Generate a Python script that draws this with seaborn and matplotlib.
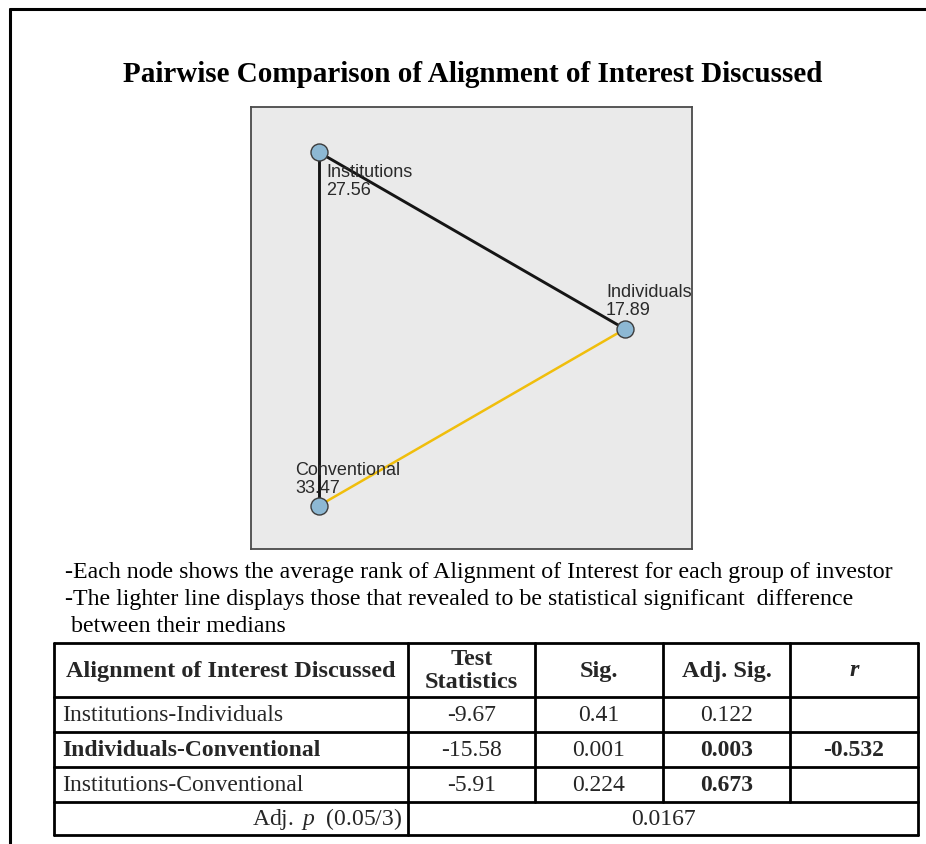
import numpy as np
import pandas as pd
import seaborn as sns
import matplotlib
matplotlib.use("Agg")
import matplotlib.pyplot as plt
from matplotlib.lines import Line2D

# ---- data -------------------------------------------------------------
groups = ["Institutions", "Individuals", "Conventional"]
mean_ranks = [27.56, 17.89, 33.47]

comparisons = ["Institutions-Individuals", "Individuals-Conventional", "Institutions-Conventional"]
pair_a = ["Institutions", "Individuals", "Institutions"]
pair_b = ["Individuals", "Conventional", "Conventional"]
test_stats = ["-9.67", "-15.58", "-5.91"]
sig_vals = ["0.41", "0.001", "0.224"]
adj_sig_vals = ["0.122", "0.003", "0.673"]
r_vals = ["", "-0.532", ""]
adj_p = 0.05 / 3
adj_p_label = "0.0167"

headers = ["Alignment of Interest Discussed", "Test\nStatistics", "Sig.", "Adj. Sig.", "r"]

notes = [
    "-Each node shows the average rank of Alignment of Interest for each group of investor",
    "-The lighter line displays those that revealed to be statistical significant  difference",
    " between their medians",
]

# ---- figure -----------------------------------------------------------
sns.set_theme(style="white")
plt.rcParams["font.family"] = ["Liberation Serif", "DejaVu Serif"]
plt.rcParams["mathtext.fontset"] = "custom"
plt.rcParams["mathtext.it"] = "Liberation Serif:italic"
plt.rcParams["mathtext.rm"] = "Liberation Serif"

W, H = 926, 844
fig = plt.figure(figsize=(W / 100, H / 100), dpi=100)
fig.patch.set_facecolor("white")


def fx(x):
    return x / W


def fy(y):
    return 1 - y / H


# page frame (left and top rules)
fig.add_artist(Line2D([fx(10), fx(10)], [fy(9), fy(H + 5)], color="black", lw=2.2,
                      transform=fig.transFigure))
fig.add_artist(Line2D([fx(10), fx(W + 5)], [fy(9), fy(9)], color="black", lw=2.2,
                      transform=fig.transFigure))

fig.text(fx(473), fy(74), "Pairwise Comparison of Alignment of Interest Discussed",
         ha="center", va="center", fontsize=21, fontweight="bold", color="black")

# ---- network panel ------------------------------------------------------
ax = fig.add_axes([fx(251), fy(549), fx(692) - fx(251), fy(107) - fy(549)])
ax.set_facecolor("#EAEAEA")
for sp in ax.spines.values():
    sp.set_color("#4a4a4a")
    sp.set_linewidth(1.3)
    sp.set_visible(True)

# nodes sit on the vertices of an equilateral triangle
radius = 204
angles = np.deg2rad([120, 0, 240])
nodes = pd.DataFrame({
    "group": groups,
    "rank": mean_ranks,
    "x": radius * np.cos(angles),
    "y": radius * np.sin(angles),
}).set_index("group")

for a, b, p in zip(pair_a, pair_b, adj_sig_vals):
    significant = float(p) < adj_p
    ax.plot([nodes.loc[a, "x"], nodes.loc[b, "x"]],
            [nodes.loc[a, "y"], nodes.loc[b, "y"]],
            color="#F0BE0C" if significant else "#151515",
            lw=1.8 if significant else 2.1, zorder=2, solid_capstyle="round")

sns.scatterplot(data=nodes.reset_index(), x="x", y="y", s=150, color="#8DB8D3",
                edgecolor="#3c3c3c", linewidth=1.0, ax=ax, zorder=3, legend=False)

label_offsets = {
    "Institutions": ((7, -12), "top"),
    "Individuals": ((-19, 10), "bottom"),
    "Conventional": ((-24, 9), "bottom"),
}
for g in groups:
    (dx, dy), va = label_offsets[g]
    ax.annotate(f"{g}\n{nodes.loc[g, 'rank']:.2f}",
                (nodes.loc[g, "x"], nodes.loc[g, "y"]),
                xytext=(dx * 0.72, dy * 0.72), textcoords="offset points",
                ha="left", va=va, fontsize=13, color="#2a2a2a",
                family=["Liberation Sans", "DejaVu Sans"], linespacing=1.05, zorder=4)

ax.set_xlim(-170, 271)
ax.set_ylim(-220, 222)
ax.set_xticks([])
ax.set_yticks([])
ax.set_xlabel("")
ax.set_ylabel("")

# ---- notes -------------------------------------------------------------
note_x = [65, 65, 65]
note_y = [578, 605, 632]
for t, x, y in zip(notes, note_x, note_y):
    fig.text(fx(x), fy(y), t, ha="left", va="baseline", fontsize=17.2, color="black")

# ---- results table -----------------------------------------------------
col_edges = [54, 408, 535, 663, 790, 918]
row_edges = [643, 697, 732, 767, 802, 835]
tlw = 2.0


def hline(y, x0, x1):
    fig.add_artist(Line2D([fx(x0), fx(x1)], [fy(y), fy(y)], color="black", lw=tlw,
                          transform=fig.transFigure))


def vline(x, y0, y1):
    fig.add_artist(Line2D([fx(x), fx(x)], [fy(y0), fy(y1)], color="black", lw=tlw,
                          transform=fig.transFigure))


for y in row_edges:
    hline(y, col_edges[0], col_edges[-1])
for x in col_edges[:2] + [col_edges[-1]]:
    vline(x, row_edges[0], row_edges[-1])
for x in col_edges[2:-1]:
    vline(x, row_edges[0], row_edges[-2])

col_centers = [(a + b) / 2 for a, b in zip(col_edges[:-1], col_edges[1:])]
row_centers = [(a + b) / 2 for a, b in zip(row_edges[:-1], row_edges[1:])]
fs = 17

# header row
for j, h in enumerate(headers):
    style = "italic" if h == "r" else "normal"
    fig.text(fx(col_centers[j]), fy(row_centers[0] + 1), h, ha="center", va="center",
             fontsize=17.5, fontweight="bold", fontstyle=style, linespacing=1.12)

# body rows
for i in range(len(comparisons)):
    significant = float(adj_sig_vals[i]) < adj_p
    yc = fy(row_centers[i + 1] + 1)
    fig.text(fx(62), yc, comparisons[i], ha="left", va="center", fontsize=fs,
             fontweight="bold" if significant else "normal")
    fig.text(fx(col_centers[1]), yc, test_stats[i], ha="center", va="center", fontsize=fs)
    fig.text(fx(col_centers[2]), yc, sig_vals[i], ha="center", va="center", fontsize=fs)
    fig.text(fx(col_centers[3]), yc, adj_sig_vals[i], ha="center", va="center", fontsize=fs,
             fontweight="bold" if (significant or i == 2) else "normal")
    fig.text(fx(col_centers[4]), yc, r_vals[i], ha="center", va="center", fontsize=fs,
             fontweight="bold")

# footer row
yc = fy(row_centers[-1] + 1)
fig.text(fx(402), yc, r"$\mathrm{Adj.}\ \mathit{p}\ \ \mathrm{(0.05/3)}$", ha="right",
         va="center", fontsize=fs)
fig.text(fx((col_edges[1] + col_edges[-1]) / 2), yc, adj_p_label, ha="center", va="center",
         fontsize=fs)

fig.savefig("out.png", dpi=100, facecolor="white")
